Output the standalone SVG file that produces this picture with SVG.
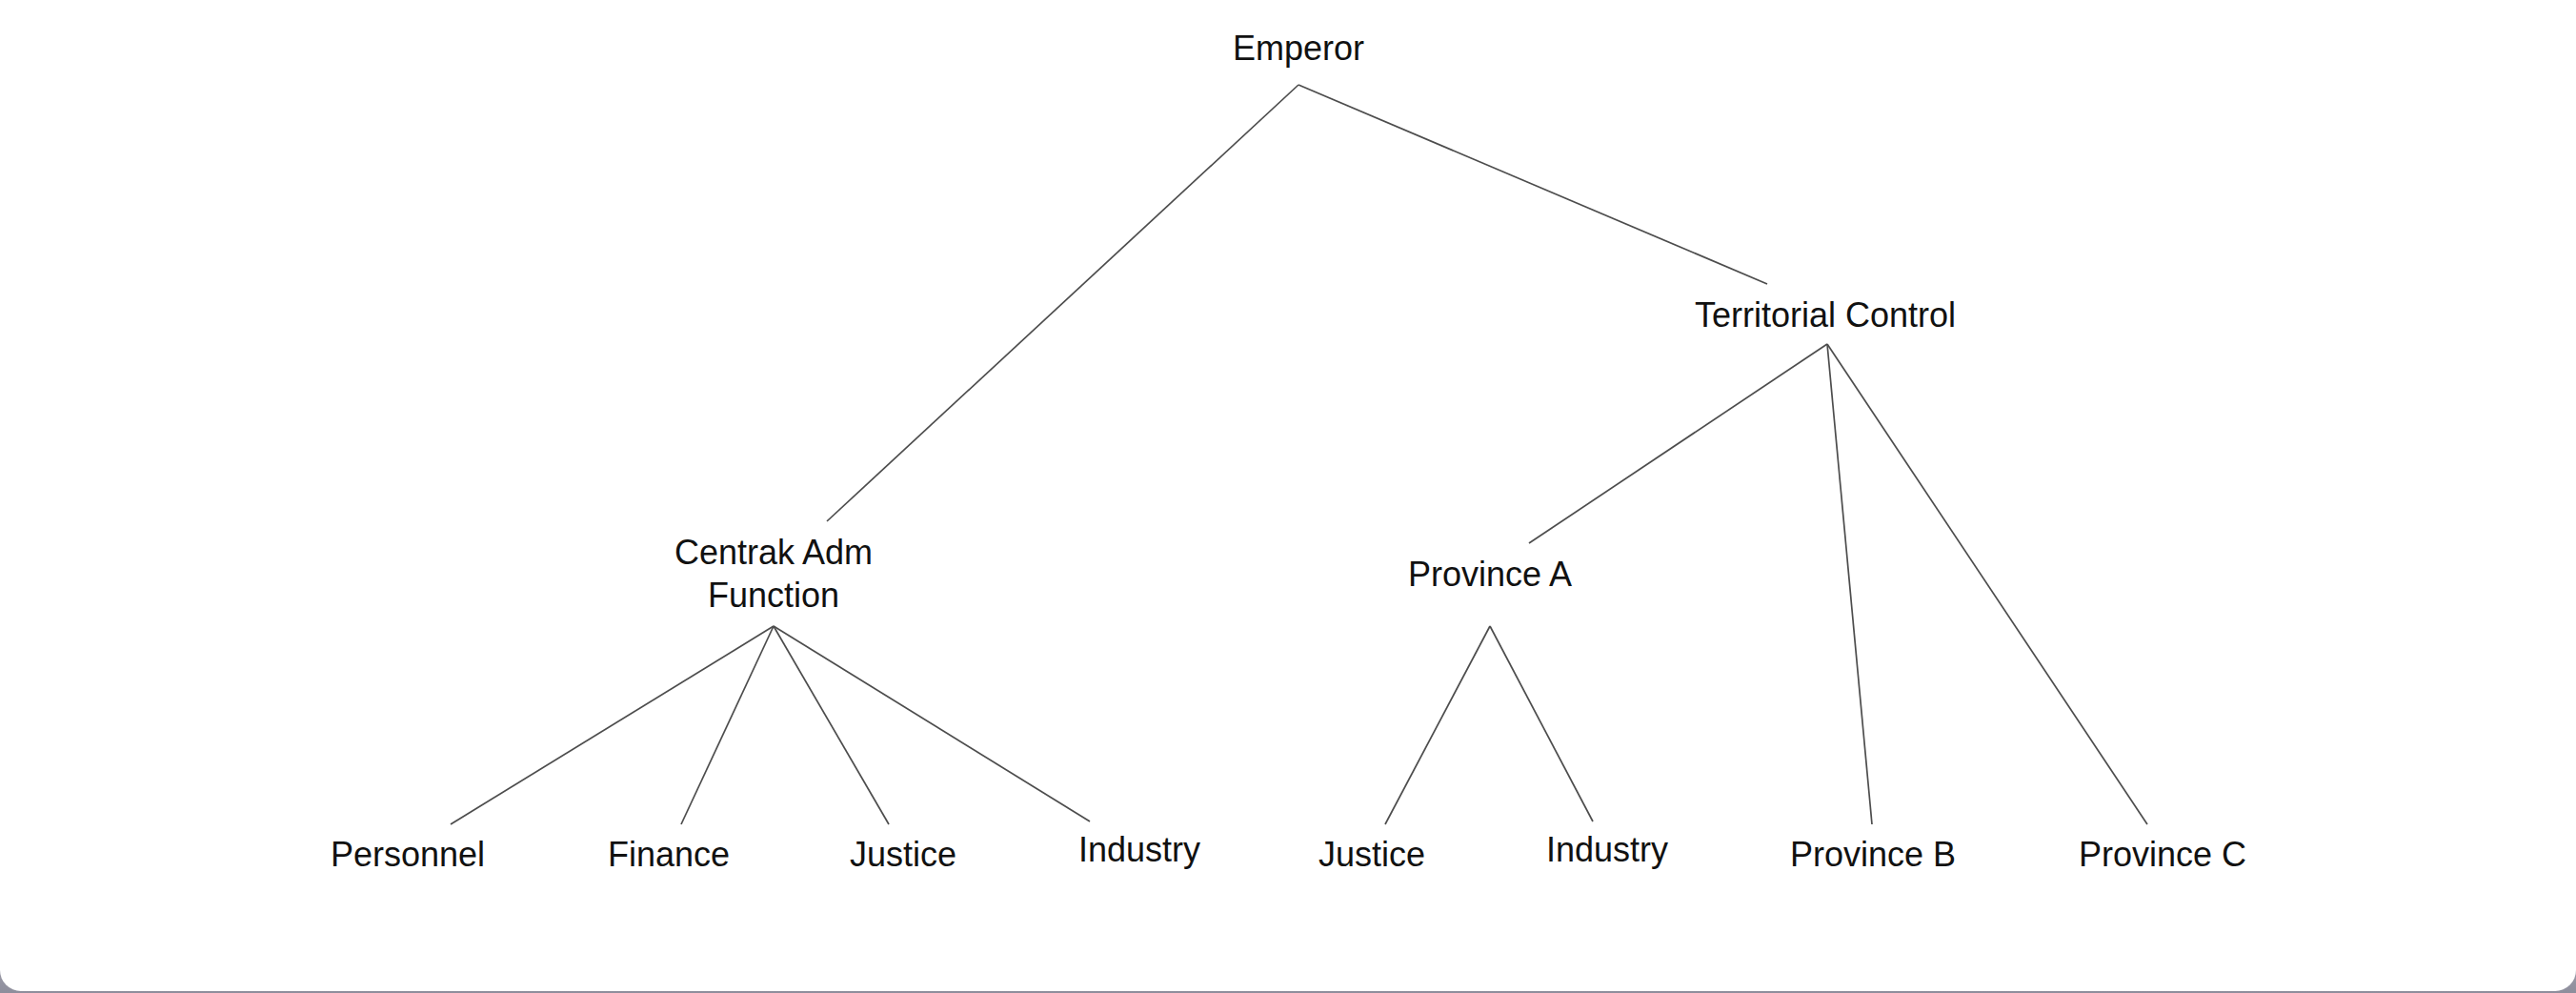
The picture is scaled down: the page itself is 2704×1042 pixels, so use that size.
<svg xmlns="http://www.w3.org/2000/svg" width="2704" height="1042" viewBox="0 0 2704 1042">
<style>
.lbl{font-family:"Liberation Sans",Arial,sans-serif;font-size:36px;fill:#111;text-anchor:middle}
.edge{stroke:#4d4d4d;stroke-width:1.7;fill:none}
</style>
<defs>
<linearGradient id="bg" x1="0" y1="0" x2="0" y2="1">
<stop offset="0" stop-color="#e4e4ea"/>
<stop offset="0.9" stop-color="#c0c0ca"/>
<stop offset="1" stop-color="#8e8e9c"/>
</linearGradient>
</defs>
<rect x="0" y="0" width="2704" height="1042" fill="url(#bg)"/>
<rect x="0" y="-40" width="2704" height="1080" rx="22" ry="22" fill="#ffffff"/>
<g id="connectors">
<line class="edge" x1="1363" y1="89" x2="868" y2="547"/>
<line class="edge" x1="1363" y1="89" x2="1855" y2="298"/>
<line class="edge" x1="1918" y1="361" x2="1605" y2="570"/>
<line class="edge" x1="1918" y1="361" x2="1965" y2="865"/>
<line class="edge" x1="1918" y1="361" x2="2254" y2="865"/>
<line class="edge" x1="1564" y1="657" x2="1454" y2="865"/>
<line class="edge" x1="1564" y1="657" x2="1672" y2="862"/>
<line class="edge" x1="812" y1="657" x2="473" y2="865"/>
<line class="edge" x1="812" y1="657" x2="715" y2="865"/>
<line class="edge" x1="812" y1="657" x2="933" y2="865"/>
<line class="edge" x1="812" y1="657" x2="1144" y2="862"/>
</g>
<g id="emperor"><text class="lbl" x="1363" y="63">Emperor</text></g>
<g id="territorial-control"><text class="lbl" x="1916" y="343">Territorial Control</text></g>
<g id="central-adm"><text class="lbl" x="812" y="592">Centrak Adm</text><text class="lbl" x="812" y="637">Function</text></g>
<g id="province-a"><text class="lbl" x="1564" y="615">Province A</text></g>
<g id="personnel"><text class="lbl" x="428" y="909">Personnel</text></g>
<g id="finance"><text class="lbl" x="702" y="909">Finance</text></g>
<g id="justice-1"><text class="lbl" x="948" y="909">Justice</text></g>
<g id="industry-1"><text class="lbl" x="1196" y="904">Industry</text></g>
<g id="justice-2"><text class="lbl" x="1440" y="909">Justice</text></g>
<g id="industry-2"><text class="lbl" x="1687" y="904">Industry</text></g>
<g id="province-b"><text class="lbl" x="1966" y="909">Province B</text></g>
<g id="province-c"><text class="lbl" x="2270" y="909">Province C</text></g>
</svg>
